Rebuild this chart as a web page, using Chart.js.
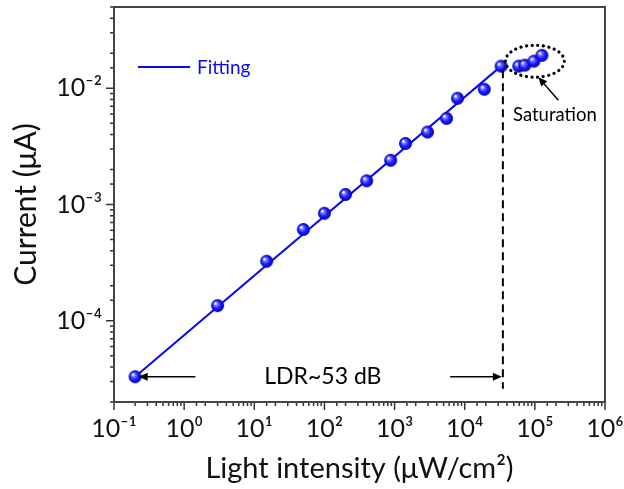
<!DOCTYPE html>
<html>
<head>
<meta charset="utf-8">
<script src="https://cdn.jsdelivr.net/npm/chart.js@4.4.1/dist/chart.umd.min.js"></script>
<style>
  html, body { margin: 0; padding: 0; background: #fff; }
</style>
</head>
<body>
<canvas id="chart" width="624" height="489"></canvas>
<script>
// measured points (light intensity in uW/cm2, current in uA)
const intensity = [0.2, 3, 15, 50, 100, 200, 400, 880, 1430, 2950, 5500, 7900, 19000, 33000];
const current = [3.3e-5, 1.35e-4, 3.25e-4, 6.1e-4, 8.4e-4, 1.22e-3, 1.6e-3, 2.4e-3, 3.35e-3, 4.2e-3, 5.5e-3, 8.2e-3, 9.8e-3, 0.0155];
// saturated points
const satIntensity = [59000, 72000, 97000, 126000];
const satCurrent = [0.0155, 0.0158, 0.0171, 0.0192];
// linear fit (log-log)
const fitIntensity = [0.2, 33000];
const fitCurrent = [3.3e-5, 0.0155];

// annotation anchors, in data units
const ldrLevel = 3.3e-5;
const ldrEdge = 35000;
const ldrLabel = 'LDR~53 dB';
const satLabel = 'Saturation';

const FONT = 'Lato, "DejaVu Sans", sans-serif';
const BLUE = '#0a0af0';
const SUP = {'-': '\u207B', '0': '\u2070', '1': '\u00B9', '2': '\u00B2', '3': '\u00B3',
  '4': '\u2074', '5': '\u2075', '6': '\u2076', '7': '\u2077', '8': '\u2078', '9': '\u2079'};

function isPow10(v) {
  const l = Math.log10(v);
  return Math.abs(l - Math.round(l)) < 1e-6;
}
function powLabel(v) {
  if (!isPow10(v)) return '';
  const e = String(Math.round(Math.log10(v)));
  return '10' + e.split('').map(c => SUP[c]).join('');
}

// little shaded sphere used as the marker
function makeBall(r) {
  const c = document.createElement('canvas');
  c.width = c.height = Math.ceil(r * 2 + 2);
  const g = c.getContext('2d');
  const cx = c.width / 2, cy = c.height / 2;
  const grad = g.createRadialGradient(cx - r * 0.35, cy - r * 0.35, 0.5, cx, cy, r);
  grad.addColorStop(0, '#ffffff');
  grad.addColorStop(0.25, '#6f6fff');
  grad.addColorStop(0.6, '#1a1aff');
  grad.addColorStop(1, '#0000a8');
  g.fillStyle = grad;
  g.beginPath();
  g.arc(cx, cy, r, 0, Math.PI * 2);
  g.fill();
  return c;
}
const ball = makeBall(6.5);

function arrow(ctx, x1, y1, x2, y2) {
  const a = Math.atan2(y2 - y1, x2 - x1);
  const len = 9, w = 4;
  ctx.beginPath();
  ctx.moveTo(x1, y1);
  ctx.lineTo(x2 - Math.cos(a) * len * 0.8, y2 - Math.sin(a) * len * 0.8);
  ctx.stroke();
  ctx.beginPath();
  ctx.moveTo(x2, y2);
  ctx.lineTo(x2 - Math.cos(a) * len + Math.sin(a) * w, y2 - Math.sin(a) * len - Math.cos(a) * w);
  ctx.lineTo(x2 - Math.cos(a) * len - Math.sin(a) * w, y2 - Math.sin(a) * len + Math.cos(a) * w);
  ctx.closePath();
  ctx.fill();
}

const framePlugin = {
  id: 'frame',
  afterDraw(chart) {
    const {ctx, chartArea: a, scales: {x, y}} = chart;
    ctx.save();
    // ticks, outward
    ctx.strokeStyle = '#333';
    ctx.lineWidth = 1.5;
    x.ticks.forEach(t => {
      const px = x.getPixelForValue(t.value);
      const len = isPow10(t.value) ? 8 : 4;
      ctx.beginPath();
      ctx.moveTo(px, a.bottom);
      ctx.lineTo(px, a.bottom + len);
      ctx.stroke();
    });
    y.ticks.forEach(t => {
      const py = y.getPixelForValue(t.value);
      const len = isPow10(t.value) ? 8 : 4;
      ctx.beginPath();
      ctx.moveTo(a.left, py);
      ctx.lineTo(a.left - len, py);
      ctx.stroke();
    });
    // box
    ctx.lineWidth = 2;
    ctx.strokeStyle = '#444';
    ctx.strokeRect(a.left, a.top, a.right - a.left, a.bottom - a.top);

    // LDR range marks
    ctx.strokeStyle = '#000';
    ctx.fillStyle = '#000';
    ctx.lineWidth = 2;
    const ex = x.getPixelForValue(ldrEdge);
    ctx.setLineDash([8, 5]);
    ctx.beginPath();
    ctx.moveTo(ex, y.getPixelForValue(0.0143));
    ctx.lineTo(ex, y.getPixelForValue(2.6e-5));
    ctx.stroke();
    ctx.setLineDash([]);
    const ly = y.getPixelForValue(ldrLevel);
    ctx.lineWidth = 1.5;
    arrow(ctx, x.getPixelForValue(1.45), ly, x.getPixelForValue(0.225), ly);
    arrow(ctx, x.getPixelForValue(6200), ly, x.getPixelForValue(ldrEdge) - 1, ly);
    ctx.font = '23px ' + FONT;
    ctx.textAlign = 'center';
    ctx.textBaseline = 'middle';
    ctx.fillText(ldrLabel, x.getPixelForValue(95), ly);

    // saturation ellipse
    const ex0 = x.getPixelForValue(10 ** 4.58), ex1 = x.getPixelForValue(10 ** 5.42);
    const ey0 = y.getPixelForValue(10 ** -1.63), ey1 = y.getPixelForValue(10 ** -1.905);
    ctx.lineWidth = 3.2;
    ctx.lineCap = 'round';
    ctx.setLineDash([0.1, 5.5]);
    ctx.beginPath();
    ctx.ellipse((ex0 + ex1) / 2, (ey0 + ey1) / 2, (ex1 - ex0) / 2, (ey1 - ey0) / 2, 0, 0, Math.PI * 2);
    ctx.stroke();
    ctx.setLineDash([]);
    ctx.lineCap = 'butt';
    ctx.lineWidth = 1.5;
    arrow(ctx, x.getPixelForValue(2.16e5), y.getPixelForValue(0.0079),
      x.getPixelForValue(1.12e5), y.getPixelForValue(0.01245));
    ctx.font = '18.5px ' + FONT;
    ctx.fillText(satLabel, x.getPixelForValue(1.93e5), y.getPixelForValue(0.00585));

    // legend
    ctx.strokeStyle = BLUE;
    ctx.lineWidth = 2;
    ctx.beginPath();
    ctx.moveTo(a.left + 24, a.top + 60);
    ctx.lineTo(a.left + 76, a.top + 60);
    ctx.stroke();
    ctx.fillStyle = BLUE;
    ctx.font = '19px ' + FONT;
    ctx.textAlign = 'left';
    ctx.fillText('Fitting', a.left + 83, a.top + 61);
    ctx.restore();
  }
};

new Chart(document.getElementById('chart'), {
  type: 'scatter',
  data: {
    datasets: [
      {
        label: 'Data',
        data: intensity.map((v, i) => ({x: v, y: current[i]})),
        pointStyle: ball,
        pointRadius: 6,
        showLine: false,
        order: 0
      },
      {
        label: 'Saturation',
        data: satIntensity.map((v, i) => ({x: v, y: satCurrent[i]})),
        pointStyle: ball,
        pointRadius: 6,
        showLine: false,
        order: 0
      },
      {
        label: 'Fitting',
        data: fitIntensity.map((v, i) => ({x: v, y: fitCurrent[i]})),
        showLine: true,
        borderColor: BLUE,
        borderWidth: 2,
        pointRadius: 0,
        order: 1
      }
    ]
  },
  options: {
    responsive: false,
    animation: false,
    layout: {padding: {top: 7, right: 19, left: 0, bottom: 0}},
    plugins: {legend: {display: false}, tooltip: {enabled: false}},
    scales: {
      x: {
        type: 'logarithmic',
        min: 0.1,
        max: 1e6,
        border: {display: false},
        grid: {display: false, drawTicks: false},
        ticks: {
          autoSkip: false,
          maxRotation: 0,
          padding: 12,
          color: '#111',
          font: {family: FONT, size: 25},
          callback: v => powLabel(v)
        },
        title: {
          display: true,
          text: 'Light intensity (\u03BCW/cm\u00B2)',
          color: '#111',
          font: {family: FONT, size: 29},
          padding: {top: 0, bottom: 3}
        },
        afterFit: s => { s.height = 87; s.paddingLeft = 0; s.paddingRight = 0; }
      },
      y: {
        type: 'logarithmic',
        min: 2e-5,
        max: 0.05,
        border: {display: false},
        grid: {display: false, drawTicks: false},
        ticks: {
          autoSkip: false,
          padding: 12,
          color: '#111',
          font: {family: FONT, size: 25},
          callback: v => powLabel(v)
        },
        title: {
          display: true,
          text: 'Current (\u03BCA)',
          color: '#111',
          font: {family: FONT, size: 30},
          padding: {top: 8, bottom: 0}
        },
        afterFit: s => { s.width = 114; s.paddingTop = 0; s.paddingBottom = 0; }
      }
    }
  },
  plugins: [framePlugin]
});
</script>
</body>
</html>
